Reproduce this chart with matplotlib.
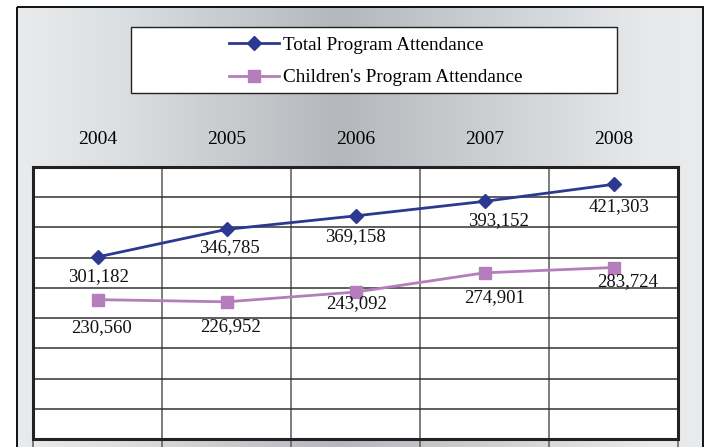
import numpy as np
import matplotlib
matplotlib.use("Agg")
import matplotlib.pyplot as plt
from matplotlib.patches import Rectangle
from matplotlib.colors import LinearSegmentedColormap

years = ["2004", "2005", "2006", "2007", "2008"]
total = [301182, 346785, 369158, 393152, 421303]
children = [230560, 226952, 243092, 274901, 283724]

# label offsets in points (dx, dy) so the numbers sit where they do in the original
total_off = [(1, -14), (2, -13), (0, -15), (10, -14), (4, -16)]
child_off = [(3, -20), (3, -18), (1, -8), (7, -18), (10, -10)]

plt.rcParams['font.family'] = ['Liberation Serif', 'DejaVu Serif']

W, H = 705, 447
fig = plt.figure(figsize=(W / 100, H / 100), dpi=100)

# background panel with a horizontal grey gradient
bg = fig.add_axes([0, 0, 1, 1], zorder=-1)
bg.set_xlim(0, W)
bg.set_ylim(H, 0)
bg.axis('off')
cmap = LinearSegmentedColormap.from_list(
    "g", [(0.0, "#e9ebed"), (0.15, "#dcdfe1"), (0.47, "#b4b8bc"),
          (0.8, "#d9dcde"), (0.92, "#e7e9eb"), (1.0, "#e9ebed")])
grad = np.linspace(0, 1, 256)[None, :]
bg.imshow(grad, cmap=cmap, aspect='auto', extent=(17, 703, H + 2, 7))
bg.add_patch(Rectangle((17, 7), 686, H, fill=False, ec='black', lw=1.3))

# legend box
bg.add_patch(Rectangle((131, 27), 486, 66, fc='white', ec='#222222', lw=1.0))

ax = fig.add_axes([33 / W, 1 - 439 / H, 645 / W, 272 / H])
ax.set_facecolor('white')
x = np.arange(1, len(years) + 1)

l1, = ax.plot(x, total, color='#2B3990', lw=2, marker='D', ms=7,
              label='Total Program Attendance', zorder=3)
l2, = ax.plot(x, children, color='#B57DBB', lw=2, marker='s', ms=9,
              label="Children's Program Attendance", zorder=3)

for xi, v, (dx, dy) in zip(x, total, total_off):
    ax.annotate(f"{v:,}", (xi, v), xytext=(dx, dy), textcoords='offset points',
                ha='center', va='center', fontsize=13.5, color='#111111')
for xi, v, (dx, dy) in zip(x, children, child_off):
    ax.annotate(f"{v:,}", (xi, v), xytext=(dx, dy), textcoords='offset points',
                ha='center', va='center', fontsize=13.5, color='#111111')

ax.set_xlim(0.5, len(years) + 0.5)
ax.set_ylim(0, 450000)
ax.set_yticks(np.arange(0, 450001, 50000))
ax.set_yticklabels([])
ax.tick_params(axis='y', length=0)
ax.grid(axis='y', color='#333333', lw=1.1)

ax.set_xticks(x)
ax.set_xticklabels(years, fontsize=14)
ax.set_xticks(np.arange(0.5, len(years) + 1), minor=True)
ax.xaxis.set_ticks_position('top')
ax.tick_params(axis='x', which='major', length=0, pad=14, labeltop=True,
               labelbottom=False)
ax.tick_params(axis='x', which='minor', bottom=True, top=False,
               direction='out', length=10, width=1.2, color='#666666')
ax.grid(axis='x', which='minor', color='#666666', lw=1.2)
ax.set_axisbelow(True)
for s in ax.spines.values():
    s.set_color('#222222')
    s.set_linewidth(2.2)

leg = fig.legend(handles=[l1, l2], loc='center',
                 bbox_to_anchor=(376 / W, 1 - 61.5 / H), frameon=False,
                 fontsize=13.8, handlelength=2.6, handletextpad=0.2,
                 labelspacing=0.78)

fig.savefig("out.png", dpi=100)
